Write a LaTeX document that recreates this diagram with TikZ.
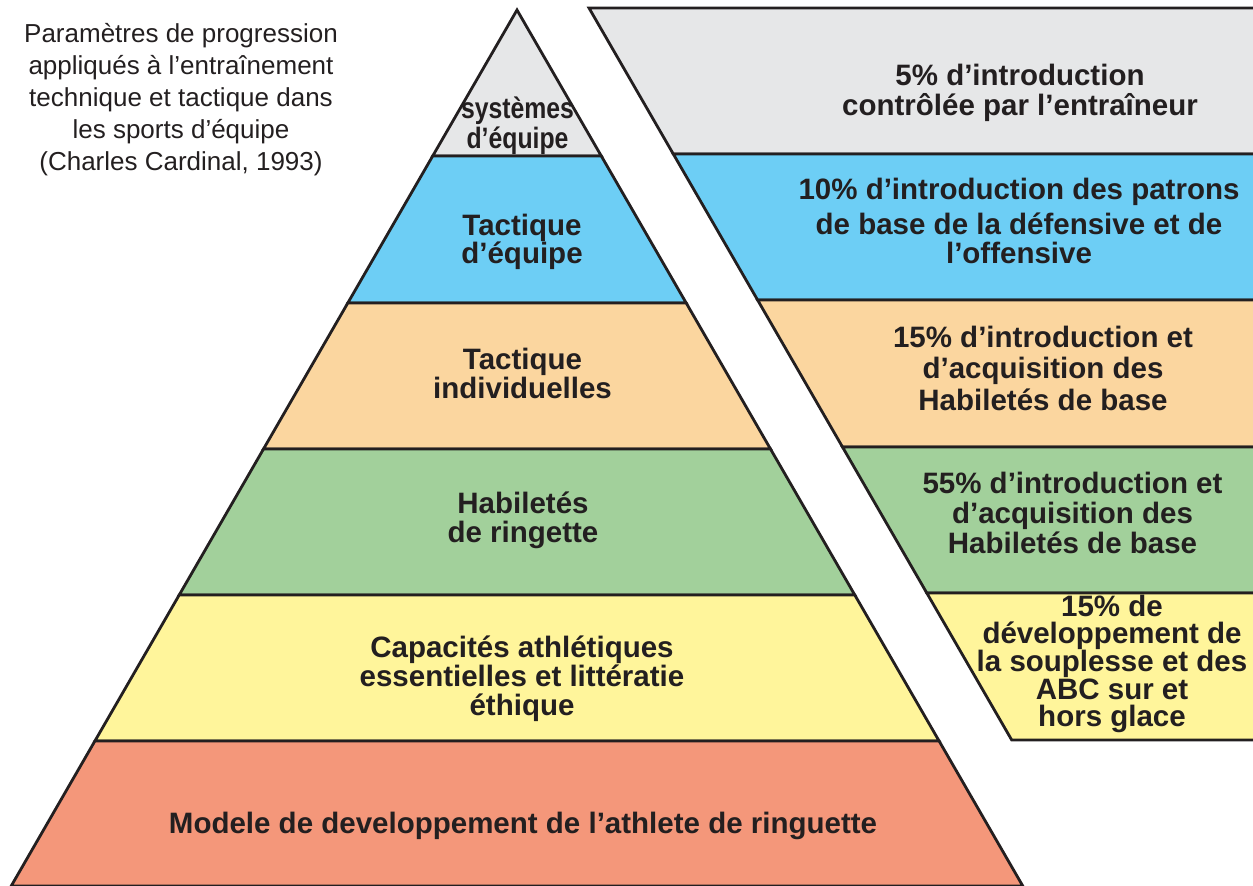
\documentclass[tikz,border=0pt]{standalone}
\usepackage{fontspec}
\setmainfont{Liberation Sans}
\usepackage{graphicx}
\definecolor{ink}{HTML}{231F20}
\definecolor{cgray}{HTML}{E6E7E8}
\definecolor{cblue}{HTML}{6DCEF5}
\definecolor{cpeach}{HTML}{FBD69F}
\definecolor{cgreen}{HTML}{A2D09B}
\definecolor{cyellow}{HTML}{FFF59B}
\definecolor{csalmon}{HTML}{F4977A}
\tikzset{
  band/.style={fill=#1, draw=ink, line width=2.8pt, line join=miter},
  lbl/.style={font=\bfseries\fontsize{29.5}{#1}\selectfont, text=ink, align=center, inner sep=0pt, anchor=base},
  note/.style={font=\fontsize{26}{32}\selectfont, text=ink, align=center, inner sep=0pt, anchor=base}
}
\begin{document}
\begin{tikzpicture}[x=1pt,y=-1pt]
\useasboundingbox (0,0) rectangle (1253,886);
\clip (0,0) rectangle (1253,886);
% pyramid bands (apex 517,10; slope 0.5774)
\path[band=cgray]   (517,10) -- (601.3,156) -- (432.7,156) -- cycle;
\path[band=cblue]   (432.7,156) -- (601.3,156) -- (686.2,303) -- (347.8,303) -- cycle;
\path[band=cpeach]  (347.8,303) -- (686.2,303) -- (770.5,449) -- (263.5,449) -- cycle;
\path[band=cgreen]  (263.5,449) -- (770.5,449) -- (854.8,595) -- (179.2,595) -- cycle;
\path[band=cyellow] (179.2,595) -- (854.8,595) -- (939.1,741) -- (94.9,741) -- cycle;
\path[band=csalmon] (94.9,741) -- (939.1,741) -- (1022.8,886) -- (11.2,886) -- cycle;
% right panel bands (left edge from 589,8 slope 0.5774)
\path[band=cgray]   (589,8) -- (1270,8) -- (1270,154) -- (673.3,154) -- cycle;
\path[band=cblue]   (673.3,154) -- (1270,154) -- (1270,300) -- (757.6,300) -- cycle;
\path[band=cpeach]  (757.6,300) -- (1270,300) -- (1270,447) -- (842.5,447) -- cycle;
\path[band=cgreen]  (842.5,447) -- (1270,447) -- (1270,593) -- (926.8,593) -- cycle;
\path[band=cyellow] (926.8,593) -- (1270,593) -- (1270,740) -- (1011.7,740) -- cycle;
% title (anchor = baseline of last line)
\node[note] (title) at (181,170) {Paramètres de progression\\appliqués à l’entraînement\\technique et tactique dans\\les sports d’équipe\\(Charles Cardinal, 1993)};
% pyramid labels
\node[lbl=30] (p1) at (517.5,148) {\scalebox{0.84}[1]{systèmes}\\\scalebox{0.84}[1]{d’équipe}};
\node[lbl=28] (p2) at (522,263) {Tactique\\d’équipe};
\node[lbl=29] (p3) at (522.5,398) {Tactique\\individuelles};
\node[lbl=29] (p4) at (523,542) {Habiletés\\de ringette};
\node[lbl=29] (p5) at (522,715) {Capacités athlétiques\\essentielles et littératie\\éthique};
\node[lbl=29] (p6) at (523,833) {Modele de developpement de l’athlete de ringuette};
% right panel labels
\node[lbl=29.5] (r1) at (1020,115) {5\% d’introduction\\contrôlée par l’entraîneur};
\node[lbl=29] (r2) at (1019,263) {10\% d’introduction des patrons\\[6pt]de base de la défensive et de\\l’offensive};
\node[lbl=31.5] (r3) at (1043,410) {15\% d’introduction et\\d’acquisition des\\Habiletés de base};
\node[lbl=30] (r4) at (1072.5,553) {55\% d’introduction et\\d’acquisition des\\Habiletés de base};
\node[lbl=26.5] (r5) at (1112,726) {15\% de\\développement de\\la souplesse et des\\ABC sur et\\hors glace};
\end{tikzpicture}
\end{document}
